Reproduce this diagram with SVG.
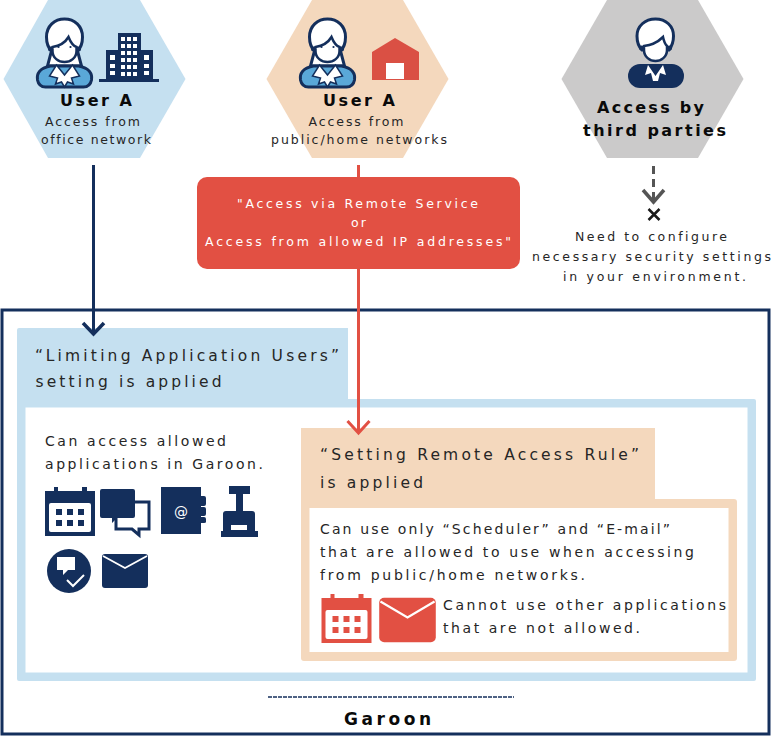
<svg xmlns="http://www.w3.org/2000/svg" width="780" height="736" viewBox="0 0 780 736">
<style>
text{font-family:"DejaVu Sans",sans-serif;fill:#262626;text-anchor:start}
.s{font-size:12.500px;letter-spacing:2px}
.b{font-size:16px;font-weight:bold;letter-spacing:3px;fill:#0a0a0a}
.m{font-size:14px;letter-spacing:2px}
.h{font-size:15.500px;letter-spacing:3px}
.w{font-size:12.500px;letter-spacing:2px;fill:#fff}
.navy{fill:#142f5c}
.red{fill:#e25043}
</style>
<defs>
<g id="female">
<path d="M-13 -3C-18 -8 -18 -14 -18 -17C-18 -28 -10 -35 0 -35C10 -35 18 -28 18 -17C18 -14 18 -8 13 -3L17 12H-17Z" fill="#fff" stroke="#142f5c" stroke-width="3"/>
<path d="M-14 12C-25 14 -28 20 -27 26C-26 31 -23 33 -19 33H19C23 33 26 31 27 26C28 20 25 14 14 12Z" fill="#5aa8d8" stroke="#142f5c" stroke-width="3"/>
<circle cx="-14" cy="-5" r="2.500" fill="#142f5c"/><circle cx="14" cy="-5" r="2.500" fill="#142f5c"/>
<path d="M-12 -7C-5 -8 1 -12 4 -17C6 -12 9 -8 12 -7V-3C12 4 6 8 0 8C-6 8 -12 4 -12 -3Z" fill="#fff" stroke="#142f5c" stroke-width="2.500"/>
<circle cx="-6" cy="-7" r="1.100" fill="#142f5c"/><circle cx="6" cy="-7" r="1.100" fill="#142f5c"/>
<path d="M-8 11L0 21L8 11L15 22L7 24L9 30L3 28L0 33L-3 28L-9 30L-7 24L-15 22Z" fill="#fff" stroke="#142f5c" stroke-width="1.500"/>
</g>
<g id="cal">
<path d="M-16 -21V-25H-12V-21H12V-25H17V-21H25V24H-25V-21Z"/>
<rect x="-21" y="-9" width="42" height="29" rx="2" fill="#fff"/>
<path d="M-14 -3h6v6h-6zM-3 -3h6v6h-6zM8 -3h6v6h-6zM-14 8h6v6h-6zM-3 8h6v6h-6zM8 8h6v6h-6z"/>
</g>
<g id="mail">
<rect x="-23" y="-18" width="46" height="36" rx="4"/>
<path d="M-22 -15L0 -2L22 -15" fill="none" stroke="#fff" stroke-width="1.800"/>
</g>
</defs>
<g id="garoon">
<rect x="2" y="310" width="767" height="424" fill="none" stroke="#142f5c" stroke-width="3"/>
<path d="M268 697H514" stroke="#142f5c" stroke-width="1.500" stroke-dasharray="4 1"/>
<text x="344" y="725" class="b" style="font-size:17px" textLength="90">Garoon</text>
</g>
<g id="node-user-a-office">
<polygon points="48,0 140,0 185.500,79 140,158 48,158 3.500,79" fill="#c5e0f0"/>
<use href="#female" transform="translate(64.500 54)"/>
<path class="navy" d="M118 33H141V50H153V79H159V82H99V79H106V50H118Z"/>
<path fill="#fff" d="M121 37h4v4h-4zM127 37h4v4h-4zM133 37h4v4h-4zM121 44h4v4h-4zM127 44h4v4h-4zM133 44h4v4h-4zM121 51h4v4h-4zM127 51h4v4h-4zM133 51h4v4h-4zM121 58h4v4h-4zM127 58h4v4h-4zM133 58h4v4h-4zM121 65h4v4h-4zM127 65h4v4h-4zM133 65h4v4h-4zM121 72h4v4h-4zM127 72h4v4h-4zM133 72h4v4h-4zM110 55h5v5h-5zM110 64h5v4h-5zM110 71h5v4h-5zM144 55h5v5h-5zM144 64h5v4h-5zM144 71h5v4h-5z"/>
<text x="60" y="106" class="b" textLength="75">User A</text>
<text x="45" y="126" class="s" textLength="97">Access from</text>
<text x="41" y="144" class="s" textLength="112">office network</text>
</g>
<g id="node-user-a-home">
<polygon points="312,0 403,0 448.500,79 403,158 312,158 266.500,79" fill="#f4d8bd"/>
<use href="#female" transform="translate(327.500 54)"/>
<path d="M372 52L395 38L419 52V80H372Z" fill="#da5044"/>
<rect x="386" y="63" width="18" height="16" fill="#fff"/>
<text x="323" y="106" class="b" textLength="75">User A</text>
<text x="308.500" y="126" class="s" textLength="97">Access from</text>
<text x="271" y="144" class="s" textLength="178">public/home networks</text>
</g>
<g id="node-third-parties">
<polygon points="607,0 698,0 743.500,79 698,158 607,158 561.500,79" fill="#cbcaca"/>
<path d="M642 50C638 46 637 40 637 36C637 26 645 19 655.500 19C666 19 673.500 26 673.500 36C673.500 40 672 46 669 50Z" fill="#fff" stroke="#142f5c" stroke-width="3"/>
<circle cx="641.500" cy="48" r="2.500" class="navy"/><circle cx="669.500" cy="48" r="2.500" class="navy"/>
<path d="M644 46C650 45 656 44 663 37C664 42 666 45 667 46V50C667 57 661 61 655.500 61C650 61 644 57 644 50Z" fill="#fff" stroke="#142f5c" stroke-width="2.500"/>
<rect x="628" y="64" width="56" height="24" rx="12" class="navy"/>
<path d="M648 65L655.500 76L663 65L666 75L660 73L658 81H653L651 73L645 75Z" fill="#fff"/>
<text x="597" y="113" class="b" textLength="110">Access by</text>
<text x="583" y="136" class="b" textLength="146">third parties</text>
</g>
<g id="note-third-parties">
<path d="M648.500 209L659.500 220M659.500 209L648.500 220" stroke="#1a1a1a" stroke-width="2.500"/>
<text x="575" y="241" class="s" textLength="154">Need to configure</text>
<text x="532" y="261" class="s" textLength="241">necessary security settings</text>
<text x="563" y="281" class="s" textLength="185">in your environment.</text>
</g>
<g id="node-remote-condition">
<rect x="197" y="177" width="323" height="92" rx="10" fill="#e25043"/>
<text x="237" y="208" class="w" textLength="243">"Access via Remote Service</text>
<text x="351" y="227" class="w" textLength="17">or</text>
<text x="205" y="246" class="w" textLength="308">Access from allowed IP addresses"</text>
</g>
<g id="node-limiting">
<path d="M19 328H348V399H754Q756 399 756 401V679Q756 681 754 681H19Q17 681 17 679V330Q17 328 19 328Z" fill="#c5e0f0"/>
<rect x="25.500" y="407.500" width="722" height="265" fill="#fff"/>
<text x="35" y="361" class="h" textLength="307">“Limiting Application Users”</text>
<text x="35.500" y="387" class="h" textLength="189">setting is applied</text>
<text x="45" y="446" class="m" textLength="183">Can access allowed</text>
<text x="45" y="469" class="m" textLength="220">applications in Garoon.</text>
<g class="navy">
<use href="#cal" transform="translate(70 512)"/>
<path d="M102 489H133Q135 489 135 491V516Q135 518 133 518H117L112 523V518H102Q100 518 100 516V491Q100 489 102 489Z"/>
<path d="M135 502H149V529H139V535L132 529H116V518" fill="none" stroke="#142f5c" stroke-width="3"/>
<rect x="161" y="487" width="40" height="47"/>
<path d="M201 496h3q2 0 2 2v6q0 2 -2 2h-3zM201 507h3q2 0 2 2v5q0 2 -2 2h-3zM201 517h3q2 0 2 2v3q0 1 -2 1h-3z"/>
<path d="M229 486H250V494H243V511H252Q255 511 255 514V531H258V537H221V531H223V514Q223 511 226 511H236V494H229Z"/>
<circle cx="69" cy="571" r="22"/>
<rect x="102" y="554" width="46" height="34" rx="3"/>
</g>
<text x="174" y="517" style="fill:#fff;font-size:14px">@</text>
<rect x="231" y="525" width="16" height="5" fill="#fff"/>
<path d="M57 557H75V570H68L63 575V570H57Z" fill="#fff"/>
<path d="M67 580L73 586L84 575" fill="none" stroke="#fff" stroke-width="2"/>
<path d="M103 556L125 568L147 556" fill="none" stroke="#fff" stroke-width="1.800"/>
</g>
<g id="node-remote-rule">
<path d="M301 428H655V499H734Q737 499 737 502V658Q737 661 734 661H304Q301 661 301 658Z" fill="#f4d8bd"/>
<rect x="309.500" y="508" width="419" height="144" fill="#fff"/>
<text x="320" y="460" class="h" textLength="322">“Setting Remote Access Rule”</text>
<text x="320" y="488" class="h" textLength="106">is applied</text>
<text x="320" y="534" class="m" textLength="352">Can use only “Scheduler” and “E-mail”</text>
<text x="320" y="557" class="m" textLength="376">that are allowed to use when accessing</text>
<text x="320" y="580" class="m" textLength="267">from public/home networks.</text>
<use href="#cal" class="red" transform="translate(346.500 619)"/>
<use href="#mail" class="red" transform="translate(407.500 620) scale(1.230)"/>
<text x="443" y="610" class="m" textLength="285">Cannot use other applications</text>
<text x="443" y="633" class="m" textLength="199">that are not allowed.</text>
</g>
<g id="connectors" fill="none">
<path d="M93.500 165V334" stroke="#142f5c" stroke-width="3"/>
<path d="M83 323L93.500 334L104 323" stroke="#142f5c" stroke-width="3.500"/>
<path d="M358.500 269V432" stroke="#e25043" stroke-width="3"/>
<path d="M358.500 165V177" stroke="#e25043" stroke-width="3"/>
<path d="M347.500 421L358.500 433L369.500 421" stroke="#e25043" stroke-width="3"/>
<path d="M653.500 166V200" stroke="#555" stroke-width="3" stroke-dasharray="8 5"/>
<path d="M643 190L653.500 202L664 190" stroke="#555" stroke-width="3.500"/>
</g>
</svg>
